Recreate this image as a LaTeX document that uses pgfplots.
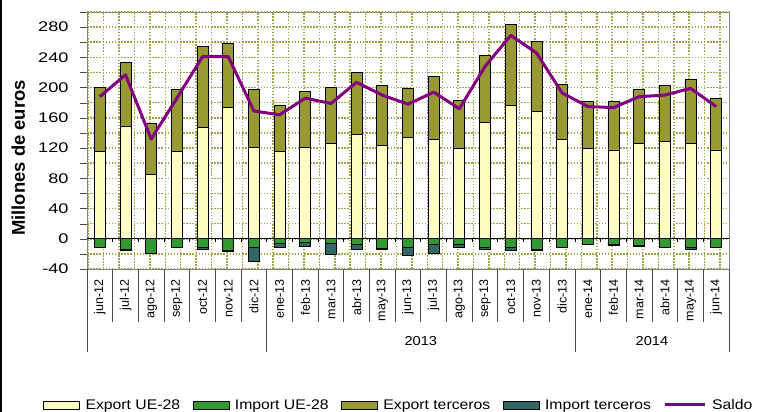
\documentclass[border=0pt]{standalone}
\usepackage{fontspec}
\setmainfont{Liberation Sans}
\newfontfamily\tickf{Liberation Sans}[FakeStretch=1.3]
\newfontfamily\legf{Liberation Sans}[FakeStretch=1.13]
\usepackage{pgfplots}
\usepackage{pgfplotstable}
\pgfplotsset{compat=1.18}
\definecolor{expue}{HTML}{FFFFC4}
\definecolor{impue}{HTML}{339933}
\definecolor{expter}{HTML}{999933}
\definecolor{impter}{HTML}{336666}
\definecolor{saldo}{HTML}{800080}
\definecolor{gridc}{HTML}{A3A347}

\pgfplotstableread{
x expue impue expter impter saldo
0  116   -11   84   -0.5 188
1  149   -14   84   -1.5 217
2  85    -19   67   -1   132
3  116   -11   81   -0.5 186
4  147   -12   107  -1.5 241
5  174   -16   85   -1   241
6  121   -11   77   -19  169
7  115   -6    62   -5.5 164
8  121   -4.5  74   -5.5 186
9  126   -6.5  74   -14  179
10 138   -7.5  82   -6.5 207
11 124   -13   79   -1   190
12 134   -11   65   -11  178
13 131   -7.5  84   -12.5 194
14 119.5 -7.5  63.5 -4   172
15 154   -12   88.5 -1.5 228
16 176.5 -11   107  -4.5 269
17 168.5 -14   92   -1   246
18 131   -11   73.5 -0.5 193
19 119.5 -7    62   -0.3 175
20 117.5 -8    64   -0.5 173.5
21 125.5 -9    72.5 -1   188
22 129   -11   74   -0.5 190
23 125.5 -11   85.5 -2.5 199
24 117.5 -11   68.5 -0.5 175
}\data

\pgfplotsset{
  common/.style={scale only axis, width=642bp, height=257bp,
    at={(87bp,143bp)}, anchor=south west,
    xmin=-0.5, xmax=24.5, ymin=-40, ymax=300},
  boxleg/.style={legend image code/.code={\draw[##1,draw=black,line width=0.8bp] (0bp,-4bp) rectangle (36bp,4bp);}},
  lineleg/.style={legend image code/.code={\draw[##1] (0bp,0bp) -- (40bp,0bp);}},
  dotgrid/.style={draw=gridc, line width=1.5bp, dash pattern=on 1.5bp off 1.6bp},
}

\begin{document}
\begin{tikzpicture}
\useasboundingbox (0,0) rectangle (763bp,412bp);
\draw[black, line width=1.5bp] (0.75bp,0) -- (0.75bp,412bp);

% main axis: positive stacks and decorations
\begin{axis}[common,
  ybar stacked, bar width=11bp,
  axis line style={draw=black!50},
  tick align=outside, major tick length=7bp, minor tick length=0pt,
  ytick pos=left, xtick pos=left,
  ytick={-40,0,...,280},
  /pgf/number format/assume math mode=true,
  yticklabel style={font=\tickf\fontsize{14}{14}\selectfont, xshift=-8bp},
  ytick style={draw=black!70},
  xtick={0,...,24},
  xticklabels={jun-12,jul-12,ago-12,sep-12,oct-12,nov-12,dic-12,ene-13,feb-13,mar-13,abr-13,may-13,jun-13,jul-13,ago-13,sep-13,oct-13,nov-13,dic-13,ene-14,feb-14,mar-14,abr-14,may-14,jun-14},
  xticklabel style={rotate=90, anchor=east, font=\fontsize{12.6}{13}\selectfont},
  major x tick style=transparent,
  minor xtick={-0.45,0.15,...,24.5},
  xminorgrids, ymajorgrids,
  major grid style={dotgrid}, minor grid style={dotgrid},
  extra y ticks={-20,20,...,300}, extra y tick labels={},
  extra y tick style={grid=major, major tick style={draw=none}},
  clip=false,
]
\addplot[fill=expue, draw=black, line width=0.8bp] table[x=x,y=expue]{\data};
\addplot[fill=expter, draw=black, line width=0.8bp] table[x=x,y=expter]{\data};
\end{axis}

% negative stacks
\begin{axis}[common, hide axis, ybar stacked, bar width=11bp]
\addplot[fill=impue, draw=black, line width=0.8bp] table[x=x,y=impue]{\data};
\addplot[fill=impter, draw=black, line width=0.8bp] table[x=x,y=impter]{\data};
\end{axis}

% line, zero line, separators, legend
\begin{axis}[common, hide axis, clip=false,
  legend columns=5,
  legend style={draw=none, fill=none, inner sep=0pt, at={(-0.0685,-0.529)}, anchor=west,
    font=\legf\fontsize{14}{14}\selectfont,
    /tikz/every odd column/.append style={column sep=4bp},
    /tikz/every even column/.append style={column sep=11bp},
    nodes={inner sep=1.5bp}},
]
\draw[black, line width=1bp] (axis cs:-0.5,0) -- (axis cs:24.5,0);
\pgfplotsinvokeforeach{0.5,1.5,...,23.5}{
  \draw[black, line width=0.8bp] (axis cs:#1,0) -- ([yshift=-3bp]axis cs:#1,0);
  \draw[black!70, line width=0.8bp] (axis cs:#1,-40) -- ([yshift=-53bp]axis cs:#1,-40);
}
\pgfplotsinvokeforeach{-0.5,6.5,18.5,24.5}{
  \draw[black!70, line width=0.8bp] (axis cs:#1,-40) -- ([yshift=-83bp]axis cs:#1,-40);
}
\node[font=\legf\fontsize{13}{13}\selectfont] at ([yshift=-72bp]axis cs:12.5,-40) {2013};
\node[font=\legf\fontsize{13}{13}\selectfont] at ([yshift=-72bp]axis cs:21.5,-40) {2014};
\addlegendimage{boxleg, fill=expue}
\addlegendentry{Export UE-28}
\addlegendimage{boxleg, fill=impue}
\addlegendentry{Import UE-28}
\addlegendimage{boxleg, fill=expter}
\addlegendentry{Export terceros}
\addlegendimage{boxleg, fill=impter}
\addlegendentry{Import terceros}
\addplot[lineleg, color=saldo, line width=3bp, mark=none, line join=round] table[x=x,y=saldo]{\data};
\addlegendentry{Saldo}
\end{axis}

\node[rotate=90, font=\bfseries\fontsize{18.5}{19}\selectfont] at (18.3bp,254bp) {Millones de euros};
\end{tikzpicture}
\end{document}
